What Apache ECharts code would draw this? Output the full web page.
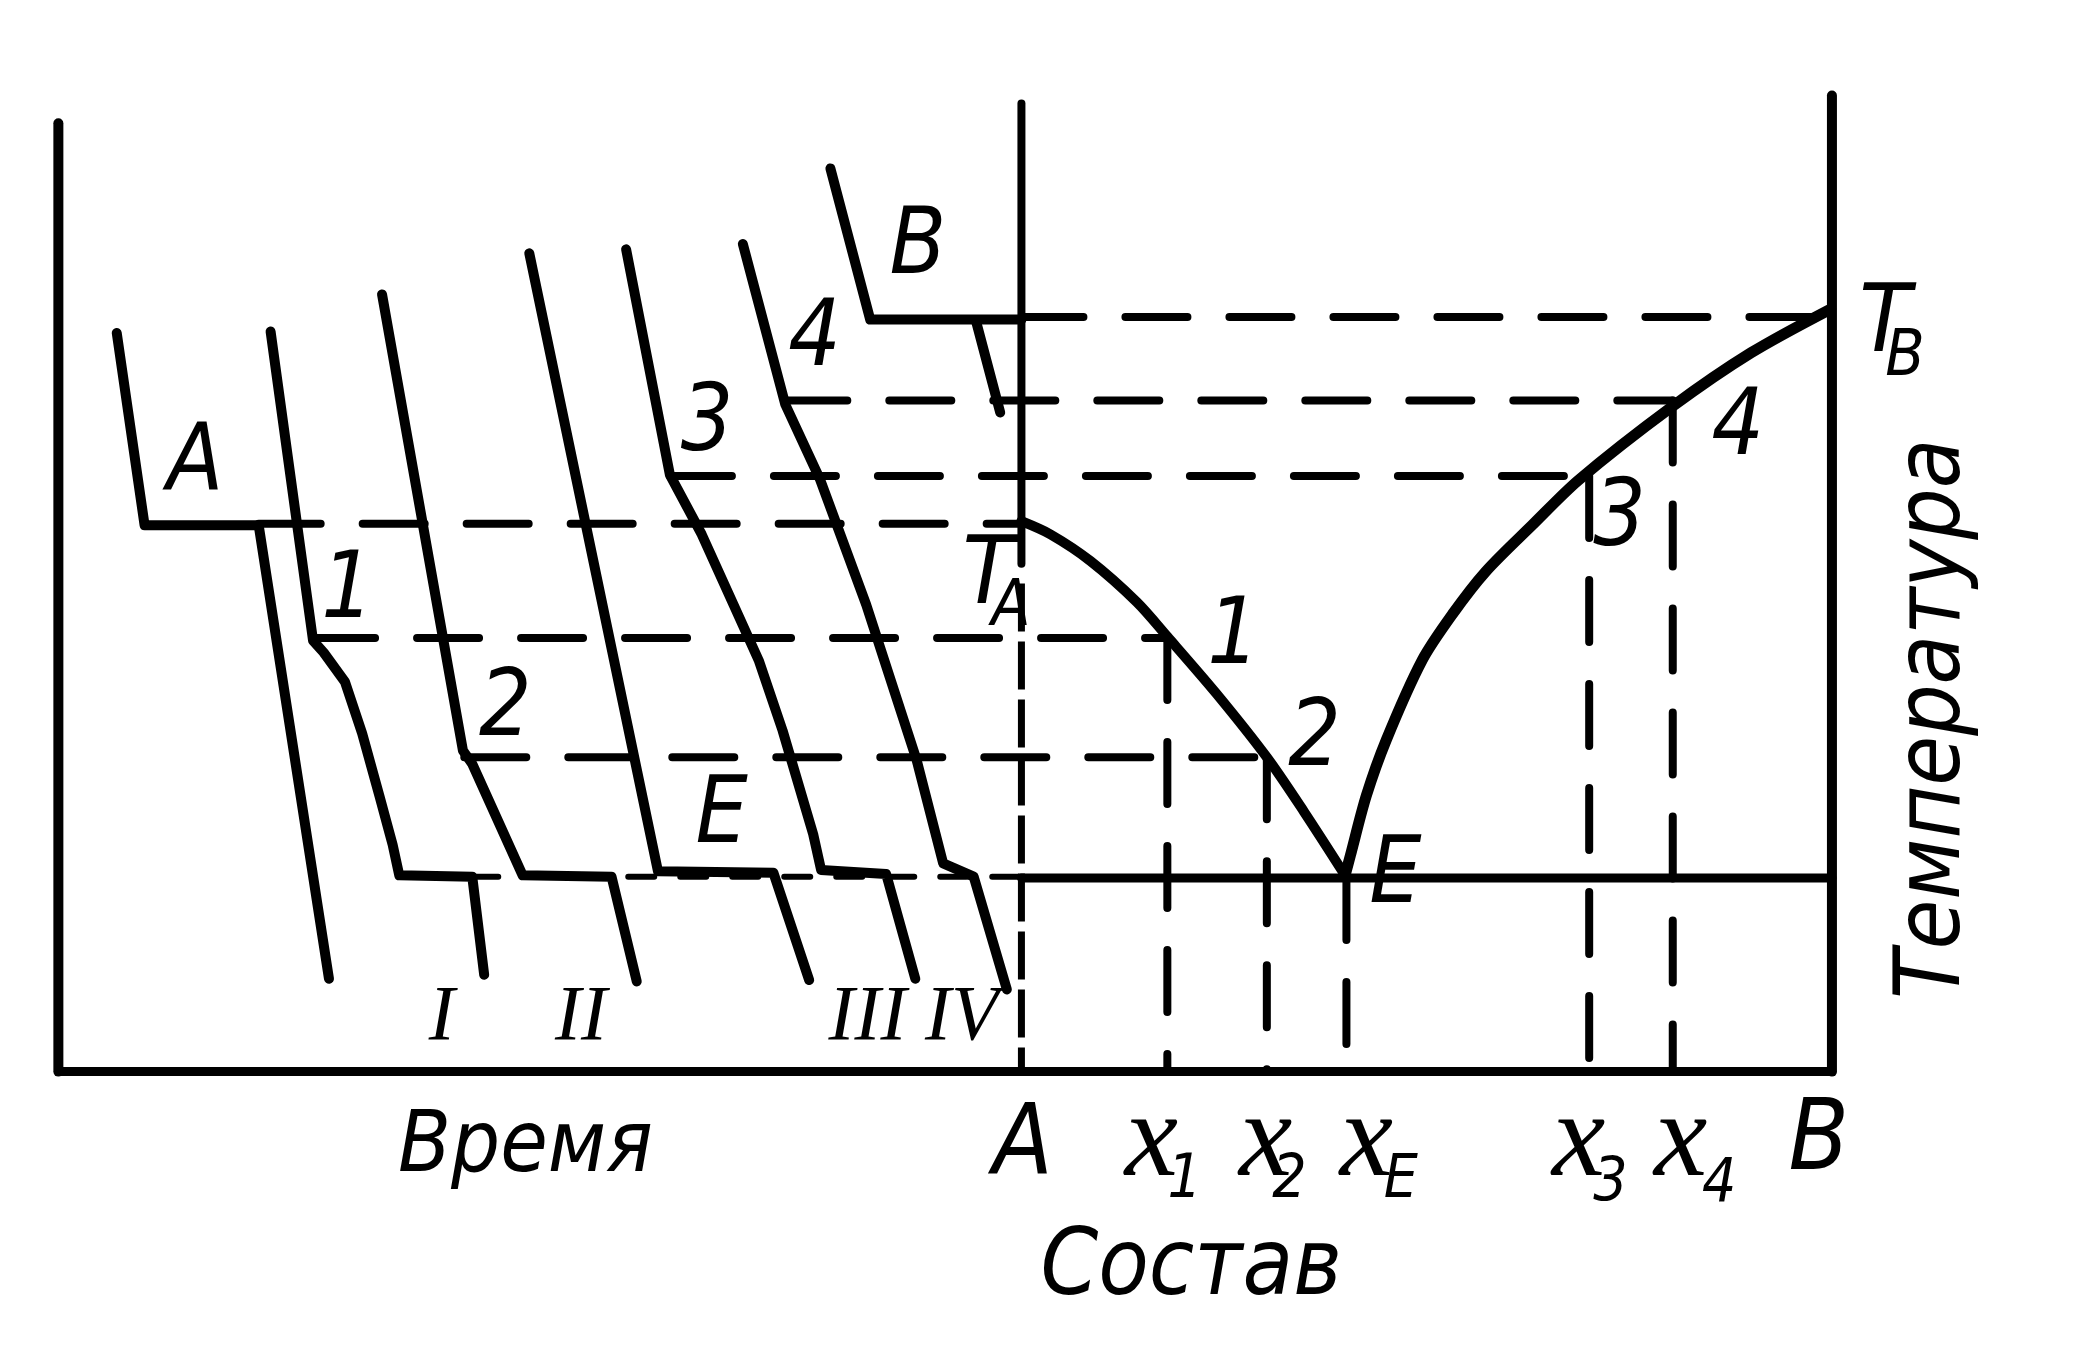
<!DOCTYPE html>
<html>
<head>
<meta charset="utf-8">
<script src="https://cdn.jsdelivr.net/npm/echarts@6/dist/echarts.min.js"></script>
<style>
html,body{margin:0;padding:0;background:#fff;}
#chart{width:2080px;height:1370px;}
</style>
</head>
<body>
<div id="chart"></div>
<script>
// ---- data (diagram units: x = time / composition, y = temperature scale, inverted) ----
const frameLeft   = [[44,93],[44,808]];
const frameBottom = [[44,808],[1381,808]];
const axisAUpper  = [[770,78],[770,425]];
const axisALower  = [[770,440],[770,808]];
const axisB       = [[1381,72],[1381,808]];

// cooling curves
const curveA  = [[88,251],[109,396],[195,396],[248,738]];
const curve1  = [[204,250],[236,483],[244,492],[260,514],[273,553],[286,600],[296,637],[301,660],[356,661],[365,735]];
const curve2  = [[288,222],[349,566],[356,576],[394,660],[461,661],[480,740]];
const curveE  = [[399,191],[496,657],[583,658],[610,739]];
const curve3  = [[472,188],[505,358],[529,403],[553,456],[572,498],[590,551],[613,629],[619,656],[668,659],[690,738]];
const curve4  = [[560,184],[592,305],[618,361],[653,456],[691,573],[711,651],[734,661],[759,746]];
const curveB  = [[626,127],[656,241],[770,241]];
const curveBDrop = [[736,243],[754,311]];

// phase diagram
const liquidusLeft  = [[770,393],[792,403],[822,423],[857,454],[880,480],[917,523],[955,571],[983,612],[1014,660]];
const liquidusRight = [[1014,660],[1018,645],[1030,600],[1045,558],[1072,498],[1095,463],[1120,431],[1155,396],[1190,362],[1260,307],[1320,266],[1380,233]];
const eutecticSolid = [[770,662],[1381,662]];
const eutecticDash  = [[356,661],[770,661]];

const dashedH = [
  [[770,239],[1380,239]],
  [[592,302],[1261,302]],
  [[505,359],[1198,359]],
  [[195,395],[770,395]],
  [[236,481],[880,481]],
  [[350,571],[955,571]]
];
const dashedV = [
  [[880,481],[880,808]],
  [[955,571],[955,808]],
  [[1015,662],[1015,808]],
  [[1198,359],[1198,808]],
  [[1261,302],[1261,808]]
];

// text
const curveLabels = [["A",147,351],["1",262,447],["2",381,536],["E",544,617],["3",533,321],["4",614,257],["B",692,188]];
const pointLabels = [["1",930,482],["2",991,559],["E",1052,662],["3",1221,393],["4",1310,324]];
const romanLabels = [["I",333,768],["II",438,768],["III",654,768],["IV",725,768]];
const compCapLabels = [["A",771,865],["B",1371,862]];
const compXLabels = [["x",868,862],["x",954,862],["x",1030,862],["x",1190,862],["x",1267,862]];
const compSubLabels = [["1",893,891],["2",972,891],["E",1056,891],["3",1214,893],["4",1296,894]];
const tempLabels = [["T",745,436],["T",1421,246]];
const tempSubLabels = [["A",762,459],["B",1436,270]];
const timeTitle = [["Время",396,866]];
const compTitle = [["Состав",898,958]];
const tempTitle = [["Температура",1459,542]];

// ---- build ----
const SANS = "'Liberation Sans Narrow','DejaVu Sans Condensed','DejaVu Sans',sans-serif";
const SERIF = "'Liberation Serif','DejaVu Serif',serif";
const series = [];
function line(data, width, dash, cap){
  series.push({type:'line', data:data, symbol:'none', silent:true, animation:false,
    lineStyle:{color:'#000', width:width, type: dash || 'solid', cap: cap || 'round', join:'round', opacity:1}});
}
function smoothLine(data, width){
  series.push({type:'line', data:data, symbol:'none', silent:true, animation:false,
    smooth:0.3,
    lineStyle:{color:'#000', width:width, cap:'round', join:'round', opacity:1}});
}
function labels(arr, size, family, extra){
  series.push({type:'scatter', symbolSize:0, silent:true, animation:false,
    itemStyle:{opacity:1, color:'#000'},
    data: arr.map(a=>({name:a[0], value:[a[1],a[2]]})),
    label: Object.assign({show:true, position:'inside', formatter:'{b}', color:'#000', opacity:1,
      textBorderWidth:0, fontSize:size, fontFamily:family, fontStyle:'italic',
      align:'center', verticalAlign:'middle'}, extra||{})});
}

line(frameLeft, 10); line(frameBottom, 9); line(axisAUpper, 8);
line(axisALower, 7, [48,10], 'butt');
line(axisB, 10);
dashedH.forEach(d=>line(d, 8, [62,42]));
dashedV.forEach(d=>line(d, 8, [62,42]));
line(eutecticDash, 6, [26,26]);
line(eutecticSolid, 9);
[curveA, curve1, curve2, curveE, curve3, curve4, curveB, curveBDrop].forEach(c=>line(c, 10));
smoothLine(liquidusLeft, 10);
smoothLine(liquidusRight, 11);

labels(curveLabels, 92, SANS);
labels(pointLabels, 92, SANS);
labels(romanLabels, 78, SERIF);
labels(compCapLabels, 98, SANS);
labels(compXLabels, 120, SERIF);
labels(compSubLabels, 60, SANS);
labels(tempLabels, 94, SANS);
labels(tempSubLabels, 64, SANS);
labels(timeTitle, 86, SANS);
labels(compTitle, 92, SANS);
labels(tempTitle, 90, SANS, {rotate:90});

const chart = echarts.init(document.getElementById('chart'), null, {renderer:'canvas'});
chart.setOption({
  backgroundColor:'#fff',
  animation:false,
  grid:{left:0,right:0,top:0,bottom:0},
  xAxis:{type:'value', min:0, max:1568, show:false},
  yAxis:{type:'value', min:0, max:1033, inverse:true, show:false},
  series:series
});
</script>
</body>
</html>
